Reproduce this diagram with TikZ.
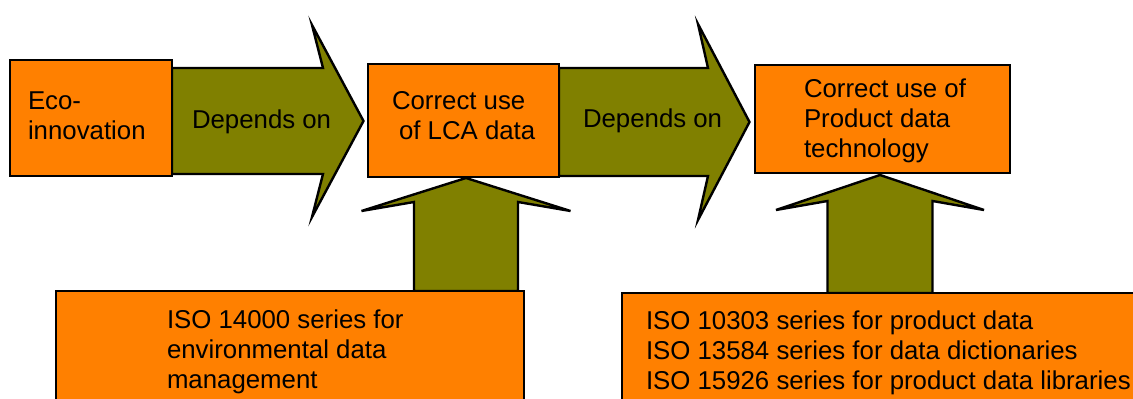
\documentclass[tikz,border=0pt]{standalone}
\usepackage{fontspec}
\setmainfont{Liberation Sans}
\usetikzlibrary{calc,backgrounds}
\definecolor{boxorange}{RGB}{255,128,0}
\definecolor{arrowolive}{RGB}{128,128,0}
\tikzset{
  box/.style={draw=black, fill=boxorange, line width=2.4pt, rectangle,
    inner sep=0pt, outer sep=0pt},
  blockarrow/.style={draw=black, fill=arrowolive, line width=2.4pt, line join=miter},
  txt/.style={inner sep=0pt, outer sep=0pt, align=left,
    font=\fontsize{25.8}{30}\selectfont},
}
% Block arrow pointing right: tail, tip, shaft half-height, head half-height,
% depth of the notch behind the tip, depth of the barbs behind the tip
\newcommand\blockright[6]{%
  \path[blockarrow] let \p1=(#1), \p2=(#2) in
    (\x1,\y2+#3) -- (\x2-#5,\y2+#3) -- (\x2-#6,\y2+#4) -- (\p2)
    -- (\x2-#6,\y2-#4) -- (\x2-#5,\y2-#3) -- (\x1,\y2-#3) -- cycle;}
% Block arrow pointing up: tail, tip, shaft half-width, head half-width,
% depth of the notch below the tip, depth of the barbs below the tip
\newcommand\blockup[6]{%
  \path[blockarrow] let \p1=(#1), \p2=(#2) in
    (\x2-#3,\y1) -- (\x2-#3,\y2-#5) -- (\x2-#4,\y2-#6) -- (\p2)
    -- (\x2+#4,\y2-#6) -- (\x2+#3,\y2-#5) -- (\x2+#3,\y1) -- cycle;}
\begin{document}
\begin{tikzpicture}[x=1pt,y=-1pt]
\useasboundingbox (0,0) rectangle (1133,399);
\clip (0,0) rectangle (1133,399);

% boxes
\node[box, minimum width=162pt, minimum height=116pt] (eco) at (91,118) {};
\node[box, minimum width=191pt, minimum height=113pt] (lca) at (463.5,120.5) {};
\node[box, minimum width=255pt, minimum height=108pt] (pdt) at (882.5,119) {};
\node[box, minimum width=468pt, minimum height=139pt] (isoA) at (290,360.5) {};
\node[box, minimum width=523pt, minimum height=137pt] (isoB) at (883.5,361.5) {};

% labels
\node[txt, anchor=north west] (ecot) at (28,91.5) {Eco-\\innovation};
\node[txt, anchor=north west] (lcat) at (392,91.5) {Correct use\\\hspace{7pt}of LCA data};
\node[txt, anchor=north west] (pdtt) at (804,78.5) {Correct use of\\Product data\\technology};
\node[txt, anchor=north west] (isoAt) at (167,309.5)
  {ISO 14000 series for\\environmental data\\management};
\node[txt, anchor=north west] (isoBt) at (646,310.5)
  {ISO 10303 series for product data\\ISO 13584 series for data dictionaries\\ISO 15926 series for product data libraries};

% block arrows behind the boxes
\begin{pgfonlayer}{background}
  \coordinate (tipA) at ($(lca.west)+(-4.5,0.5)$);
  \coordinate (tipB) at ($(pdt.west)+(-5.5,3)$);
  \coordinate (tipC) at ($(lca.south)+(2.5,1)$);
  \coordinate (tipD) at ($(pdt.south)+(-2.5,2)$);
  \blockright{eco.east}{tipA}{53pt}{96pt}{40.5pt}{51.5pt}
  \blockright{lca.east}{tipB}{54pt}{98pt}{41.5pt}{51.5pt}
  \blockup{isoA.north}{tipC}{52pt}{104.5pt}{24pt}{33pt}
  \blockup{isoB.north}{tipD}{52.5pt}{104pt}{26pt}{35pt}
\end{pgfonlayer}

\node[txt, anchor=base west] (dep1) at (192,128) {Depends on};
\node[txt, anchor=base west] (dep2) at (583,127) {Depends on};
\end{tikzpicture}
\end{document}
